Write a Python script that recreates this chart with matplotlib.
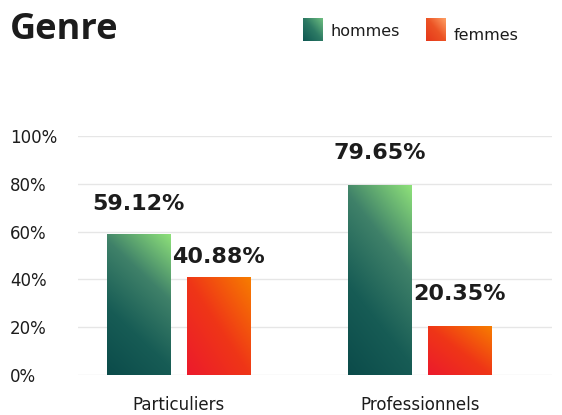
import numpy as np
import matplotlib
matplotlib.use("Agg")
import matplotlib.pyplot as plt
from matplotlib.colors import LinearSegmentedColormap

# data
categories = ["Particuliers", "Professionnels"]
hommes = [59.12, 79.65]
femmes = [40.88, 20.35]
yticks = [0, 20, 40, 60, 80, 100]
ytick_labels = ["0%", "20%", "40%", "60%", "80%", "100%"]

# gradient maps
cmap_h = LinearSegmentedColormap.from_list("h", ["#0b4b4a", "#175c55", "#3f8169", "#8fe27a"])
cmap_f = LinearSegmentedColormap.from_list("f", ["#ec1a2c", "#ef3617", "#f77d00"])
cmap_h_leg = LinearSegmentedColormap.from_list("hl", ["#0e5752", "#2d7a64", "#72c282"])
cmap_f_leg = LinearSegmentedColormap.from_list("fl", ["#e5371a", "#ec5425", "#ffa468"])


def gradient(wu, wv, n=200):
    u = np.linspace(0, 1, n)
    v = np.linspace(0, 1, n)
    U, V = np.meshgrid(u, v)
    return wu * U + wv * V


def gradient_bar(ax, bar, cmap, wu, wv):
    x, y = bar.get_x(), bar.get_y()
    w, h = bar.get_width(), bar.get_height()
    img = ax.imshow(gradient(wu, wv), cmap=cmap, origin="lower", aspect="auto",
                    extent=[x, x + w, y, y + h], vmin=0, vmax=1, zorder=2)
    img.set_clip_path(bar)
    bar.set_facecolor("none")


fig = plt.figure(figsize=(5.62, 4.15), dpi=100)
ax = fig.add_axes([78 / 562, 1 - 375 / 415, 474 / 562, 239 / 415])

x = np.arange(len(categories))
width = 0.261
offset = 0.1656

bars_h = ax.bar(x - offset, hommes, width, zorder=2, linewidth=0)
bars_f = ax.bar(x + offset, femmes, width, zorder=2, linewidth=0)
for b in bars_h:
    gradient_bar(ax, b, cmap_h, 0.3, 0.7)
for b in bars_f:
    gradient_bar(ax, b, cmap_f, 0.5, 0.5)

# value labels
label_shift = [12.6, 8.7, 13.2, 13.5]
vals = [(x[0] - offset, hommes[0]), (x[0] + offset, femmes[0]),
        (x[1] - offset, hommes[1]), (x[1] + offset, femmes[1])]
for (xx, v), s in zip(vals, label_shift):
    ax.text(xx, v + s, f"{v:.2f}%", ha="center", va="center",
            fontsize=16, fontweight="bold", color="#1c1c1c", zorder=3)

ax.set_xlim(-0.416, 1.547)
ax.set_ylim(0, 100)
ax.set_yticks(yticks)
ax.set_yticklabels(ytick_labels, ha="left", fontsize=12, color="#1c1c1c")
ax.tick_params(axis="y", length=0, pad=49)
ax.set_xticks(x)
ax.set_xticklabels(categories, fontsize=12, color="#1c1c1c")
ax.tick_params(axis="x", length=0, pad=15)
ax.grid(axis="y", color="#e6e6e6", linewidth=1, zorder=0)
ax.set_axisbelow(True)
for sp in ax.spines.values():
    sp.set_visible(False)

# title
fig.text(10 / 562, 1 - 30 / 415, "Genre", fontsize=26, fontweight="bold",
         family="Open Sans", color="#1c1c1c", va="center", ha="left")

# legend
leg_h = fig.add_axes([303 / 562, 1 - 41 / 415, 20 / 562, 23 / 415])
leg_h.imshow(gradient(0.5, 0.5), cmap=cmap_h_leg, origin="lower", aspect="auto", vmin=0, vmax=1)
leg_h.axis("off")
fig.text(331 / 562, 1 - 31 / 415, "hommes", fontsize=11.5, color="#1c1c1c",
         va="center", ha="left")

leg_f = fig.add_axes([426 / 562, 1 - 41 / 415, 20 / 562, 23 / 415])
leg_f.imshow(gradient(0.5, 0.5), cmap=cmap_f_leg, origin="lower", aspect="auto", vmin=0, vmax=1)
leg_f.axis("off")
fig.text(454 / 562, 1 - 36 / 415, "femmes", fontsize=11.5, color="#1c1c1c",
         va="center", ha="left")

fig.savefig("out.png", dpi=100)
